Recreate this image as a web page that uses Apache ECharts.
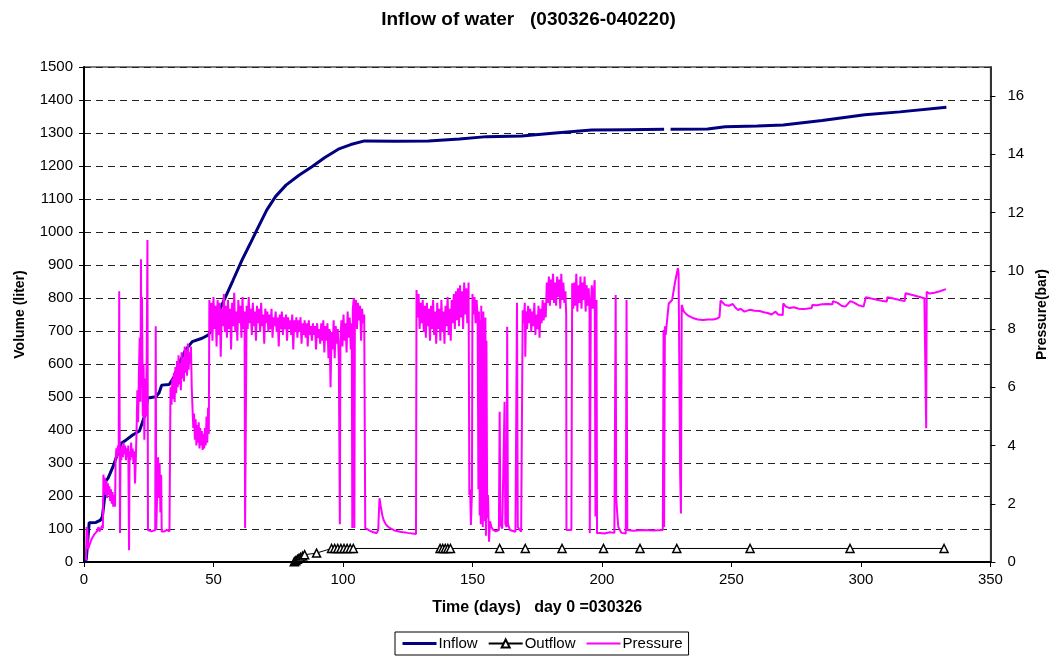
<!DOCTYPE html>
<html>
<head>
<meta charset="utf-8">
<title>Inflow of water</title>
<script src="https://cdn.jsdelivr.net/npm/echarts@6/dist/echarts.min.js"></script>
<style>
  html, body { margin: 0; padding: 0; background: #fff; }
  #chart { width: 1057px; height: 657px; }
</style>
</head>
<body>
<div id="chart"></div>
<script>
// Cumulative inflow volume, [day, liter]
const inflow = [
  [0.5,0],[0.9,10],[2,119],[4.6,120],[6.4,127],[7.1,137],[8,198],[8.4,245],[9.3,254],[11.2,289],
  [14.4,360],[16.3,370],[18.8,385],[21.4,397],[23.3,440],[24.6,497],[27.8,501],[29,513],[30,536],
  [32.9,538],[34.8,561],[36.7,602],[39.2,642],[41.8,668],[45.6,678],[48.1,688],[50,722],[54,792],
  [57.5,853],[61,915],[64,962],[67,1010],[70.6,1067],[74,1108],[78,1142],[83,1172],[88,1198],
  [93,1226],[98.2,1251],[103,1265],[108.3,1276],[120,1275],[133,1276],[145,1282],[155.5,1289],
  [169,1291],[182,1300],[196,1309],[210,1310],[224,1311],[225.3,null],[226.5,1311],[240.8,1312],
  [247.6,1319],[260,1321],[270,1324],[285,1338],[301.5,1355],[315,1364],[333,1378]
];

// Outflow volume, [day, liter]
const outflow = [
  [81.2,1],[81.8,4],[82.4,8],[83.0,11],[83.6,14],[84.4,18],[85.2,22],[89.8,27],
  [95.6,41],[96.8,41],[98,41],[99.2,41],[100.4,41],[101.6,41],[102.8,41],[104,41],
  [137.5,41],[138.5,41],[139.5,41],[140.5,41],[141.5,41],
  [160.5,41],[170.4,41],[184.6,41],[200.6,41],[214.7,41],[228.9,41],[257.2,41],[295.8,41],[332.1,41]
];

// Logged pressure, [day, bar]
const pressure = [
  [0.8,0.05],[1.0,1.2],[1.3,1.1],[1.6,0.45],[2.2,0.6],[3.0,0.8],[4.0,0.95],[5.0,1.05],[5.6,1.2],[6.0,1.05],
  [6.5,1.0],[7.0,1.25],[7.3,1.15],[7.5,3.0],[7.8,2.4],[8.0,2.9],[8.3,2.3],[8.6,2.8],[8.9,2.2],[9.2,2.7],
  [9.5,2.3],[9.8,2.6],[10.1,2.1],[10.4,2.5],[10.7,2.0],[11.0,2.4],[11.3,1.9],[11.6,2.3],[12.0,1.9],
  [12.2,3.5],[12.5,3.9],[12.8,3.6],[13.1,4.0],[13.4,3.7],[13.6,9.3],[13.8,3.7],[13.9,1.0],[14.1,3.9],
  [14.4,3.5],[14.7,4.0],[15.0,3.6],[15.3,4.1],[15.6,3.7],[15.9,4.0],[16.2,3.5],[16.5,3.9],[16.8,3.6],
  [17.1,4.0],[17.4,0.4],[17.6,3.8],[17.9,3.5],[18.2,4.1],[18.5,3.6],[18.8,3.9],[19.1,3.4],[19.4,3.8],
  [19.7,2.7],[20.0,3.5],[20.3,4.5],[20.6,5.9],[20.9,4.8],[21.2,6.5],[21.5,7.7],[21.8,5.5],[22.0,10.4],
  [22.2,6.0],[22.4,9.1],[22.7,5.0],[23.0,6.8],[23.3,4.2],[23.6,6.3],[23.9,5.0],[24.2,7.0],[24.5,11.06],
  [24.7,1.1],[26.0,1.05],[27.5,1.1],[27.7,8.1],[27.9,1.1],[28.3,1.05],[28.6,3.6],[28.9,2.2],[29.2,3.4],
  [29.5,1.7],[29.8,3.0],[30.0,1.05],[31.0,1.05],[32.0,1.1],[33.0,1.05],[33.4,6.0],[33.8,5.4],[34.1,6.3],
  [34.4,5.6],[34.7,6.5],[35.0,5.5],[35.3,6.7],[35.6,5.8],[35.9,6.9],[36.2,6.0],[36.5,7.1],[36.8,6.1],
  [37.1,6.8],[37.4,5.9],[37.7,7.2],[38.0,6.3],[38.3,7.0],[38.6,6.2],[38.9,7.4],[39.2,6.5],[39.5,7.3],
  [39.8,6.4],[40.1,7.5],[40.4,6.6],[40.7,7.2],[41.0,6.8],[41.3,7.4],[41.6,6.0],[41.9,5.3],[42.2,4.6],
  [42.5,5.1],[42.8,4.2],[43.1,4.9],[43.4,4.0],[43.7,4.7],[44.0,4.1],[44.3,4.8],[44.6,3.9],[44.9,4.6],
  [45.2,4.0],[45.5,4.5],[45.8,3.85],[46.1,4.4],[46.4,3.9],[46.7,4.6],[47.0,4.0],[47.3,5.0],[47.6,4.1],
  [47.9,5.3],[48.2,4.4],[48.4,9.0],[48.8,7.9],[49.2,8.9],[49.6,7.6],[50.0,9.1],[50.4,8.0],[50.8,8.8],
  [51.2,7.4],[51.6,9.0],[52.0,7.8],[52.4,8.9],[52.8,7.05],[53.2,8.7],[53.6,8.1],[54.0,9.2],[54.4,7.9],
  [54.8,8.8],[55.2,7.7],[55.6,9.0],[56.0,8.0],[56.4,8.7],[56.8,7.3],[57.2,8.9],[57.6,8.1],[58.0,9.25],
  [58.4,7.9],[58.8,8.6],[59.2,7.6],[59.6,9.0],[60.0,8.2],[60.4,8.8],[60.8,7.7],[61.2,9.1],[61.6,8.0],
  [62.0,8.6],[62.2,1.17],[62.6,1.2],[62.8,8.8],[63.2,8.0],[63.6,9.1],[64.0,8.2],[64.4,8.7],[64.8,7.8],
  [65.2,8.9],[65.6,8.1],[66.0,8.6],[66.4,7.6],[66.8,8.8],[67.2,8.2],[67.6,8.7],[68.0,7.9],[68.4,8.9],
  [68.8,8.1],[69.2,8.5],[69.6,7.5],[70.0,8.7],[70.4,8.2],[70.8,8.6],[71.2,7.9],[71.6,8.5],[72.0,8.0],
  [72.4,8.7],[72.8,7.7],[73.2,8.4],[73.6,8.1],[74.0,8.6],[74.4,7.9],[74.8,8.4],[75.2,7.4],[75.6,8.5],
  [76.0,8.0],[76.4,8.6],[76.8,7.8],[77.2,8.4],[77.6,8.0],[78.0,8.5],[78.4,7.6],[78.8,8.4],[79.2,8.0],
  [79.6,8.3],[80.0,7.8],[80.4,8.5],[80.8,7.3],[81.2,8.3],[81.6,7.9],[82.0,8.4],[82.4,7.7],[82.8,8.3],
  [83.2,7.9],[83.6,8.4],[84.0,7.5],[84.4,8.2],[84.8,7.8],[85.2,8.3],[85.6,7.7],[86.0,8.2],[86.4,7.4],
  [86.8,8.3],[87.2,7.8],[87.6,8.1],[88.0,7.6],[88.4,8.2],[88.8,7.8],[89.2,8.1],[89.6,7.3],[90.0,8.2],
  [90.4,7.7],[90.8,8.0],[91.2,7.5],[91.6,8.2],[92.0,7.6],[92.4,8.3],[92.8,7.2],[93.2,8.1],[93.6,7.6],
  [94.0,8.2],[94.4,7.0],[94.8,8.0],[95.2,6.0],[95.6,7.9],[96.0,7.3],[96.4,8.3],[96.8,7.0],[97.2,8.1],
  [97.6,7.5],[98.0,8.0],[98.4,6.9],[98.8,1.3],[99.0,7.6],[99.4,8.3],[99.8,7.4],[100.2,8.5],[100.6,7.6],
  [101.0,8.2],[101.4,7.2],[101.8,8.6],[102.2,7.7],[102.6,8.4],[103.0,7.3],[103.4,8.2],[103.6,1.17],
  [103.8,8.7],[104.2,9.06],[104.4,1.17],[104.6,8.6],[105.0,9.0],[105.4,8.0],[105.8,8.9],[106.2,8.3],
  [106.6,8.8],[107.0,7.6],[107.4,8.7],[107.8,8.2],[108.2,8.5],[108.6,1.16],[109.5,1.12],[110.5,1.07],
  [111.5,1.03],[113.0,0.99],[113.6,1.1],[114.1,2.19],[114.6,1.9],[115.2,1.6],[115.7,1.44],[116.5,1.3],
  [117.3,1.22],[118.2,1.16],[120,1.08],[122,1.04],[125,1.0],[128.2,0.96],[128.4,9.34],[128.8,8.4],
  [129.2,9.2],[129.6,8.0],[130.0,8.9],[130.4,8.2],[130.8,9.0],[131.2,7.9],[131.6,8.8],[132.0,7.7],
  [132.4,8.9],[132.8,8.1],[133.2,8.7],[133.6,7.6],[134.0,8.8],[134.4,8.0],[134.8,9.0],[135.2,7.8],
  [135.6,8.6],[136.0,7.5],[136.4,8.9],[136.8,8.0],[137.2,8.7],[137.6,7.6],[138.0,9.0],[138.4,7.9],
  [138.8,8.6],[139.2,7.5],[139.6,8.8],[140.0,8.1],[140.4,9.1],[140.8,7.8],[141.2,8.7],[141.6,7.6],
  [142.0,9.0],[142.4,8.2],[142.8,9.2],[143.2,8.0],[143.6,9.3],[144.0,8.3],[144.4,9.4],[144.8,8.1],
  [145.2,9.5],[145.6,8.4],[146.0,9.3],[146.4,8.0],[146.8,9.6],[147.2,8.5],[147.6,9.4],[148.0,8.2],
  [148.5,9.6],[148.8,2.3],[149.1,2.5],[149.4,1.27],[149.8,2.4],[150.0,9.2],[150.4,8.5],[150.8,9.1],
  [151.2,8.2],[151.6,9.0],[152.0,8.4],[152.3,2.5],[152.5,8.6],[152.8,1.6],[153.0,8.3],[153.2,1.3],
  [153.4,8.8],[153.6,1.9],[153.8,8.0],[154.0,1.2],[154.2,8.6],[154.4,2.1],[154.6,7.9],[154.8,1.4],
  [155.0,8.4],[155.2,0.9],[155.4,7.6],[155.7,1.5],[156.0,2.3],[156.4,0.7],[156.8,1.4],[157.3,1.2],
  [158,1.1],[159,1.05],[160.2,1.1],[160.5,5.16],[160.8,1.3],[161.5,1.15],[162.2,1.2],[162.4,5.5],
  [162.7,1.3],[163.2,1.2],[163.4,8.08],[163.7,1.3],[164.5,1.1],[166.6,1.04],[167.0,1.1],[167.2,8.9],
  [167.5,1.2],[168.8,1.04],[169.2,1.0],[169.4,8.65],[169.8,8.2],[170.2,8.9],[170.4,7.05],[170.7,8.6],
  [171.1,8.0],[171.5,8.8],[171.9,8.2],[172.3,8.7],[172.7,7.9],[173.1,8.6],[173.5,8.1],[173.9,8.9],
  [174.3,7.8],[174.7,8.5],[175.1,8.0],[175.5,8.8],[175.9,7.7],[176.3,8.7],[176.7,8.2],[177.1,9.0],
  [177.5,8.3],[177.9,8.9],[178.3,8.4],[178.7,9.6],[179.1,8.9],[179.5,9.8],[179.9,8.8],[180.3,9.7],
  [180.7,9.0],[181.1,9.9],[181.5,8.9],[181.9,9.6],[182.3,8.8],[182.7,9.8],[183.1,9.1],[183.5,9.7],
  [183.9,8.7],[184.3,9.9],[184.7,9.0],[185.1,9.6],[185.5,8.9],[185.9,9.3],[186.2,8.5],[186.3,1.1],
  [188.2,1.1],[188.5,9.57],[188.9,8.7],[189.3,9.6],[189.7,8.8],[190.1,9.9],[190.5,8.6],[190.9,9.5],
  [191.3,8.9],[191.7,9.8],[192.1,8.7],[192.5,9.6],[192.9,9.0],[193.3,9.8],[193.7,8.6],[194.1,9.5],
  [194.5,8.8],[194.9,9.4],[195.2,8.6],[195.3,0.99],[195.5,1.0],[195.7,8.8],[196.1,9.5],[196.5,8.7],
  [196.9,9.3],[197.2,9.68],[197.5,1.56],[197.9,9.0],[198.1,0.99],[199,1.0],[201,0.98],[203,1.02],
  [204.8,1.0],[205.3,9.17],[205.5,2.24],[205.8,1.8],[206.3,1.21],[207.5,1.0],[209.2,0.98],[209.5,9.0],
  [209.8,1.1],[212,1.07],[216,1.1],[220,1.08],[223.5,1.1],[223.8,7.97],[224.0,1.2],[224.3,8.1],
  [224.6,7.8],[225.2,7.74],[225.8,8.88],[227.1,9.0],[228.2,9.6],[229.3,10.09],[229.6,9.9],[230.2,3.0],
  [230.5,1.67],[230.8,8.83],[231.6,8.6],[232.5,8.52],[233.5,8.45],[235.4,8.37],[237,8.33],[239,8.31],
  [241,8.33],[243,8.33],[244.5,8.36],[245.4,8.42],[245.8,8.98],[246.2,9.0],[247.5,8.83],[249,8.8],
  [250.5,8.86],[251.5,8.74],[252,8.77],[252.6,8.65],[253.5,8.7],[255,8.6],[257,8.66],[259,8.63],
  [260.9,8.62],[262.5,8.58],[264,8.55],[265.5,8.5],[266,8.52],[267,8.6],[268,8.5],[269.8,8.48],
  [270,8.88],[271,8.77],[272.5,8.72],[274,8.75],[276,8.7],[277.4,8.69],[279,8.7],[281,8.72],
  [281.2,8.83],[283,8.82],[285,8.85],[287,8.86],[289,8.85],[289.2,8.96],[291,8.9],[292.5,8.8],
  [294,8.77],[295.9,8.96],[297.5,8.9],[299,8.82],[301,8.77],[301.9,9.09],[304,9.05],[306.7,9.0],
  [308.5,8.96],[310,8.95],[310.2,9.09],[312.5,9.05],[315,9.0],[316.9,8.96],[317.2,9.23],[319.5,9.18],
  [322,9.12],[324.5,9.06],[325.1,9.0],[325.2,4.59],[325.4,9.28],[326.5,9.22],[328.4,9.25],[330.5,9.3],
  [332.8,9.37]
];

const font = '"Liberation Sans", Arial, sans-serif';
const chart = echarts.init(document.getElementById('chart'), null, { renderer: 'canvas' });

chart.setOption({
  animation: false,
  backgroundColor: '#fff',
  textStyle: { fontFamily: font, color: '#000' },
  title: {
    text: 'Inflow of water   (030326-040220)',
    left: 'center',
    top: 5,
    textStyle: { fontFamily: font, fontSize: 19, fontWeight: 'bold', color: '#000' }
  },
  legend: {
    top: 632,
    left: 395,
    itemWidth: 34,
    itemHeight: 10,
    itemGap: 10,
    padding: [4, 6],
    borderColor: '#000',
    borderWidth: 1,
    textStyle: { fontFamily: font, fontSize: 15, color: '#000', padding: [0, 0, 0, -3] },
    data: [
      { name: 'Inflow', itemStyle: { opacity: 0 }, lineStyle: { width: 3, color: '#000080' } },
      { name: 'Outflow' },
      { name: 'Pressure', itemStyle: { opacity: 0 }, lineStyle: { width: 2, color: '#ff00ff' } }
    ]
  },
  grid: {
    left: 84, right: 57, top: 67, bottom: 95,
    show: true, borderColor: '#000', borderWidth: 1, backgroundColor: 'transparent'
  },
  xAxis: {
    type: 'value',
    min: 0, max: 350, interval: 50,
    name: 'Time (days)   day 0 =030326',
    nameLocation: 'middle',
    nameGap: 38,
    nameTextStyle: { fontFamily: font, fontSize: 16, fontWeight: 'bold', color: '#000' },
    axisLine: { show: true, lineStyle: { color: '#000', width: 2 } },
    axisTick: { show: true, length: 5, lineStyle: { color: '#000' } },
    axisLabel: { fontFamily: font, fontSize: 15, color: '#000', margin: 10 },
    splitLine: { show: false }
  },
  yAxis: [
    {
      type: 'value',
      min: 0, max: 1500, interval: 100,
      name: 'Volume (liter)',
      nameLocation: 'middle',
      nameGap: 57,
      nameTextStyle: { fontFamily: font, fontSize: 14, fontWeight: 'bold', color: '#000' },
      axisLine: { show: true, lineStyle: { color: '#000', width: 2 } },
      axisTick: { show: true, length: 5, lineStyle: { color: '#000' } },
      axisLabel: { fontFamily: font, fontSize: 15, color: '#000', margin: 11, formatter: v => String(v) },
      splitLine: { show: true, lineStyle: { color: '#222', width: 1, type: [7, 5] } }
    },
    {
      type: 'value',
      min: 0, max: 17, interval: 2,
      position: 'right',
      name: 'Pressure(bar)',
      nameLocation: 'middle',
      nameGap: 42,
      nameRotate: 90,
      nameTextStyle: { fontFamily: font, fontSize: 14, fontWeight: 'bold', color: '#000' },
      axisLine: { show: true, lineStyle: { color: '#333', width: 2 } },
      axisTick: { show: true, length: 5, lineStyle: { color: '#000' } },
      axisLabel: { fontFamily: font, fontSize: 15, color: '#000', margin: 17, showMaxLabel: false },
      splitLine: { show: false }
    }
  ],
  series: [
    {
      name: 'Inflow',
      type: 'line',
      data: inflow,
      yAxisIndex: 0,
      showSymbol: false,
      symbol: 'none',
      connectNulls: false,
      color: '#000080',
      lineStyle: { color: '#000080', width: 3 }
    },
    {
      name: 'Outflow',
      type: 'line',
      data: outflow,
      yAxisIndex: 0,
      symbol: 'triangle',
      symbolSize: 8,
      color: '#000',
      lineStyle: { color: '#000', width: 1 },
      itemStyle: { color: '#fff', borderColor: '#000', borderWidth: 1.5 }
    },
    {
      name: 'Pressure',
      type: 'line',
      data: pressure,
      yAxisIndex: 1,
      showSymbol: false,
      symbol: 'none',
      color: '#ff00ff',
      lineStyle: { color: '#ff00ff', width: 2 }
    }
  ]
});
</script>
</body>
</html>
